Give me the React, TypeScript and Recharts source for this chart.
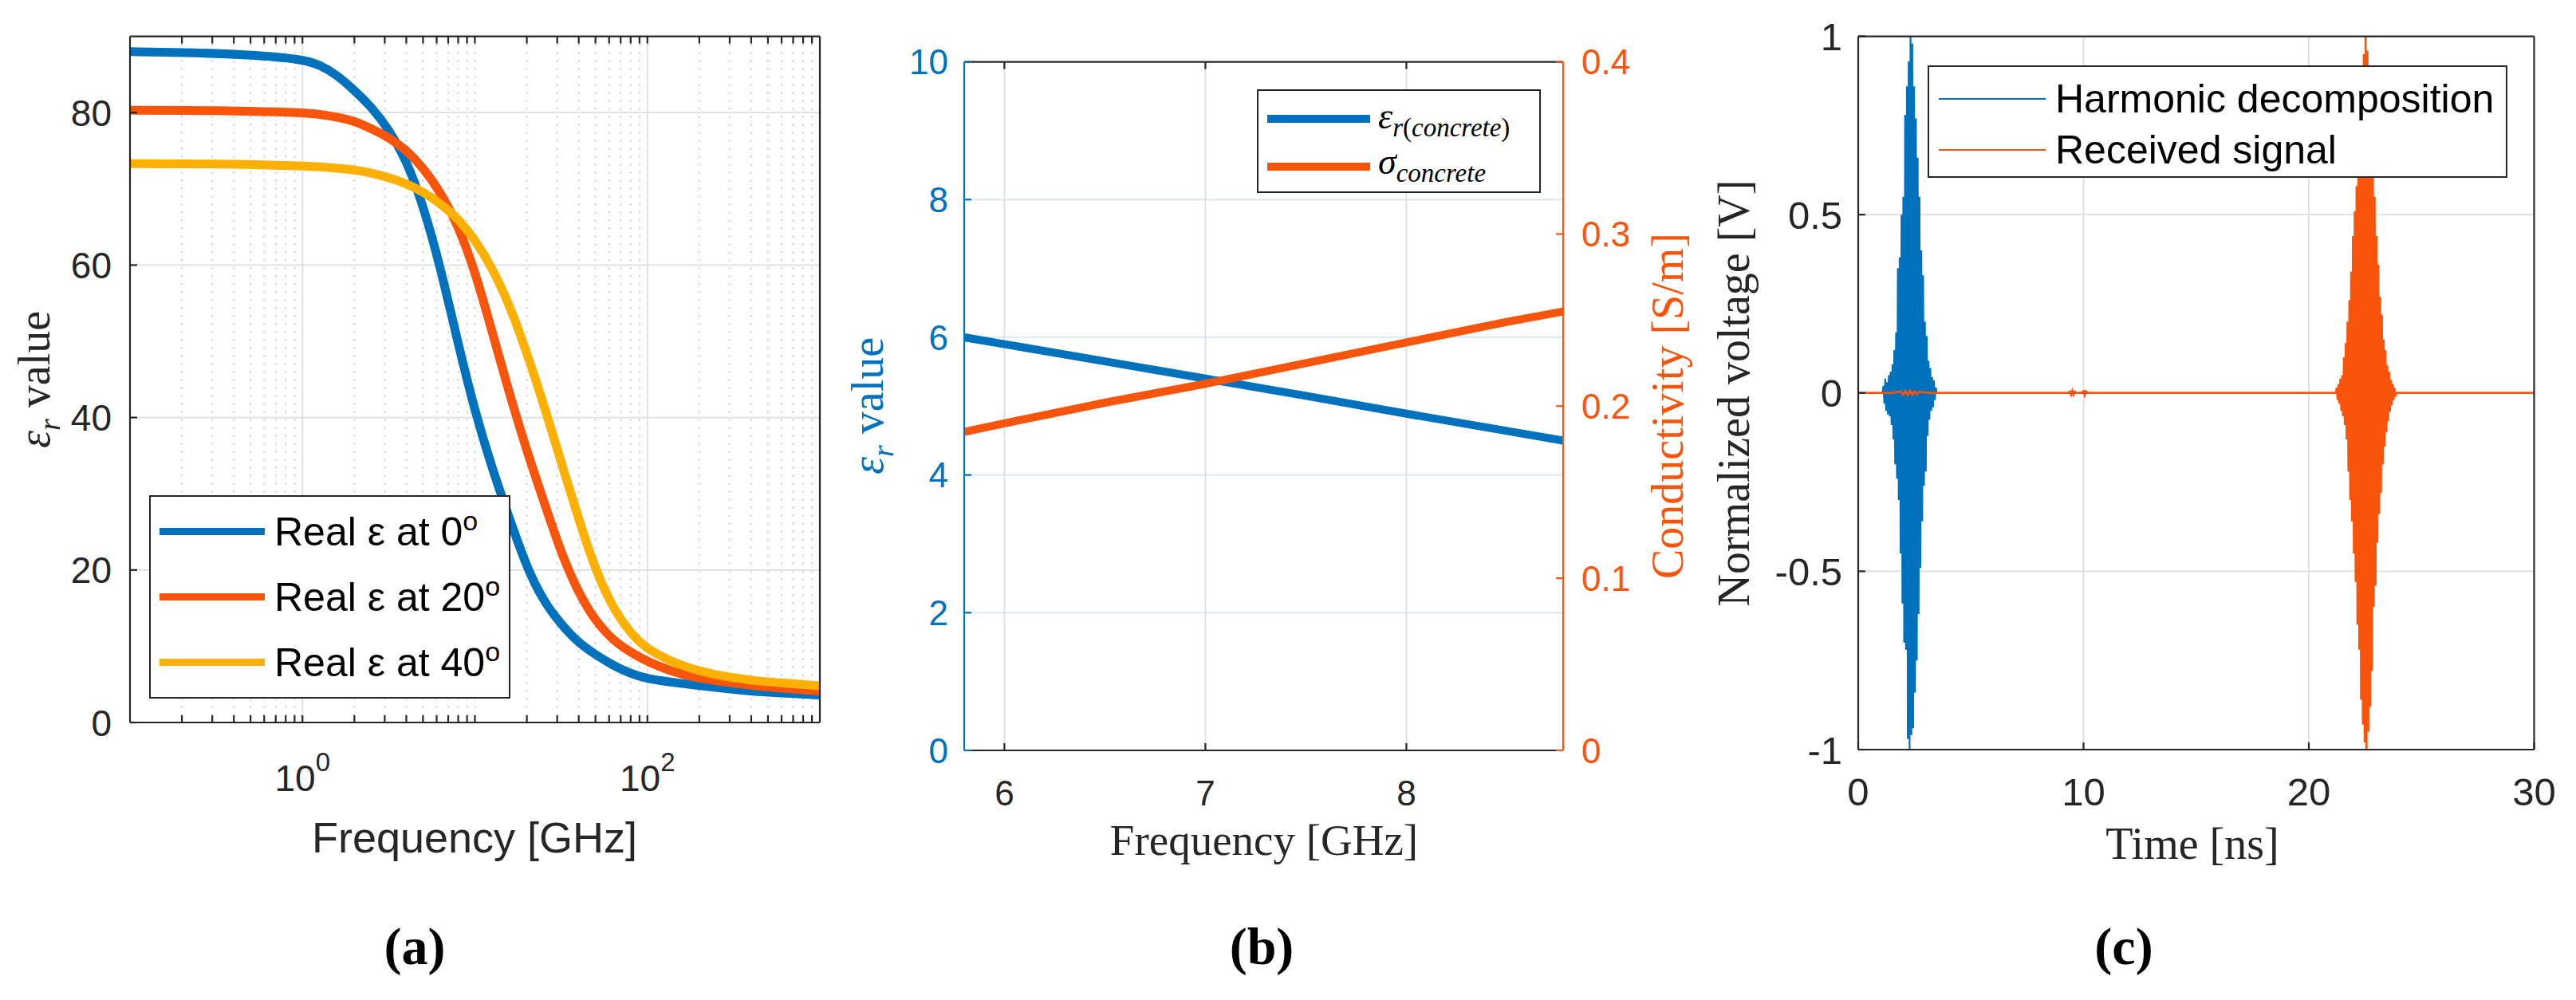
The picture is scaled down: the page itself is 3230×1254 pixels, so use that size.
import React from "react";
import { CartesianGrid, Line, LineChart, XAxis, YAxis } from "recharts";

const SANS = "'Liberation Sans', Arial, Helvetica, sans-serif";
const SERIF = "'Liberation Serif', 'Times New Roman', serif";
const AX = "#262626";
const BLUE = "#0072BD";
const ORANGE = "#F8540C";
const YELLOW = "#FEB000";
const GRID = "#DEDEDE";

// ---------- (a) real permittivity of water vs frequency ----------
const freqA = [0.1, 0.2, 0.5, 1, 1.25, 1.6, 2, 2.5, 3.15, 4, 5, 6.3, 8, 10, 12.5, 16, 20, 25, 31.5, 40, 50, 63, 80, 100, 160, 250, 400, 630, 1000];
const eps0 = [88.0, 87.9, 87.6, 87.0, 86.3, 84.9, 82.9, 80.8, 77.9, 73.8, 67.9, 59.8, 49.6, 40.8, 33.5, 26.5, 20.3, 15.9, 12.9, 10.4, 8.9, 7.5, 6.4, 5.7, 5.1, 4.6, 4.1, 3.85, 3.6];
const eps20 = [80.3, 80.3, 80.2, 80.0, 79.8, 79.4, 78.9, 77.9, 76.8, 75.1, 72.8, 69.6, 65.2, 59.2, 51.5, 42.8, 35.6, 29.1, 22.3, 16.9, 13.3, 10.8, 9.2, 7.95, 6.15, 5.47, 4.85, 4.47, 4.1];
const eps40 = [73.3, 73.3, 73.2, 73.0, 72.9, 72.7, 72.5, 72.1, 71.5, 70.7, 69.6, 68.1, 66.1, 63.3, 59.8, 54.6, 48.5, 41.8, 34.3, 26.6, 20.0, 15.0, 11.7, 9.5, 7.3, 6.2, 5.5, 5.15, 4.8];
const freqMajorA = [1, 100];
const freqMinorA = [0.2, 0.3, 0.4, 0.5, 0.6, 0.7, 0.8, 0.9, 2, 3, 4, 5, 6, 7, 8, 9, 10, 20, 30, 40, 50, 60, 70, 80, 90, 200, 300, 400, 500, 600, 700, 800, 900];
const epsTicksA = [0, 20, 40, 60, 80];
const legendA = ["Real ε at 0", "Real ε at 20", "Real ε at 40"];

const dataA = freqA.map((f, i) => ({ f, e0: eps0[i], e20: eps20[i], e40: eps40[i] }));

// ---------- (b) concrete permittivity and conductivity ----------
const freqB = [5.8, 6, 6.5, 7, 7.5, 8, 8.5, 8.78];
const epsConcrete = [6.0, 5.9, 5.65, 5.4, 5.15, 4.89, 4.64, 4.5];
const sigmaConcrete = [0.185, 0.19, 0.202, 0.213, 0.225, 0.237, 0.249, 0.255];
const freqTicksB = [6, 7, 8];
const epsTicksB = [0, 2, 4, 6, 8, 10];
const sigmaTicksB = [0, 0.1, 0.2, 0.3, 0.4];

const dataB = freqB.map((f, i) => ({ f, eps: epsConcrete[i], sig: sigmaConcrete[i] }));

// ---------- (c) time-domain signals ----------
const burstStep = 0.04;
const blueBurstStart = 1.12;
const blueBurst = [
  0.02, -0.03, 0.04, -0.05, 0.03, -0.06, 0.05, -0.065, 0.06, -0.09,
  0.08, -0.13, 0.12, -0.2, 0.17, -0.24, 0.35, -0.3, 0.38, -0.45,
  0.5, -0.59, 0.55, -0.7, 0.78, -0.72, 0.86, -0.97, 0.93, -1.0,
  1.0, -0.96, 0.98, -0.94, 0.86, -0.84, 0.77, -0.75, 0.66, -0.62,
  0.55, -0.49, 0.4, -0.36, 0.33, -0.26, 0.2, -0.22, 0.16, -0.12,
  0.09, -0.075, 0.07, -0.05, 0.045, -0.04, 0.035, -0.02, 0.015,
];
const orangeBurstStart = 21.24;
const orangeBurst = [
  0.015, -0.02, 0.025, -0.03, 0.04, -0.05, 0.05, -0.065, 0.1, -0.09,
  0.14, -0.13, 0.2, -0.22, 0.26, -0.3, 0.34, -0.36, 0.44, -0.45,
  0.51, -0.53, 0.58, -0.65, 0.66, -0.72, 0.8, -0.86, 0.88, -0.93,
  0.95, -0.98, 1.0, -1.0, 0.96, -0.95, 0.85, -0.88, 0.74, -0.78,
  0.64, -0.6, 0.55, -0.54, 0.44, -0.42, 0.36, -0.34, 0.27, -0.28,
  0.22, -0.2, 0.15, -0.15, 0.12, -0.11, 0.077, -0.08, 0.06, -0.053,
  0.037, -0.035, 0.025, -0.02, 0.015, -0.01,
];
const orangeQuietT = [0, 1.5, 1.9, 2.0, 2.1, 2.2, 2.3, 2.4, 2.5, 2.6, 2.7, 3.2, 9.3, 9.4, 9.45, 9.5, 9.55, 9.6, 9.7, 9.9, 10.0, 10.05, 10.1, 10.2, 21.2];
const orangeQuietV = [0, 0, 0.004, -0.005, 0.006, -0.006, 0.006, -0.005, 0.005, -0.004, 0.003, 0, 0, 0.004, -0.005, 0.006, -0.005, 0.004, 0, 0, 0.005, -0.006, 0.005, 0, 0];
const timeTicksC = [0, 10, 20, 30];
const voltTicksC = [-1, -0.5, 0, 0.5, 1];

const blueData = [
  { t: 0, v: 0 },
  { t: 1.08, v: 0 },
  ...blueBurst.map((v, i) => ({ t: blueBurstStart + i * burstStep, v })),
  { t: 3.48, v: 0 },
  { t: 30, v: 0 },
];
const orangeData = [
  ...orangeQuietT.map((t, i) => ({ t, v: orangeQuietV[i] })),
  ...orangeBurst.map((v, i) => ({ t: orangeBurstStart + i * burstStep, v })),
  { t: 23.88, v: 0 },
  { t: 30, v: 0 },
];

// ---------- helpers ----------
type Side = "bottom" | "top" | "left" | "right";
interface TickSpec {
  side: Side;
  len?: number;
  color?: string;
  fontSize?: number;
  gap?: number;
  show?: (v: number) => boolean;
  format?: (v: number) => React.ReactNode;
}

const tick = (s: TickSpec) => (p: any) => {
  const { x, y, payload } = p;
  const v = payload.value as number;
  const len = s.len ?? 9;
  const col = s.color ?? AX;
  const d = { bottom: [0, -len], top: [0, len], left: [len, 0], right: [-len, 0] }[s.side];
  const lab = s.format && (!s.show || s.show(v)) ? s.format(v) : null;
  const fs = s.fontSize ?? 46;
  const g = s.gap ?? 20;
  let t: React.ReactNode = null;
  if (lab !== null) {
    const common = { fontSize: fs, fontFamily: SANS, fill: col };
    if (s.side === "bottom") t = <text x={x} y={y + g} textAnchor="middle" {...common}>{lab}</text>;
    else if (s.side === "left") t = <text x={x - g} y={y} dy="0.36em" textAnchor="end" {...common}>{lab}</text>;
    else if (s.side === "right") t = <text x={x + g} y={y} dy="0.36em" textAnchor="start" {...common}>{lab}</text>;
  }
  return (
    <g>
      <line x1={x} y1={y} x2={x + d[0]} y2={y + d[1]} stroke={col} strokeWidth={2.2} />
      {t}
    </g>
  );
};

const Txt = ({ x, y, rot, size, color, family, children, weight }: any) => (
  <div
    style={{
      position: "absolute",
      left: x,
      top: y,
      transform: `translate(-50%, -50%)${rot ? " rotate(-90deg)" : ""}`,
      whiteSpace: "nowrap",
      fontSize: size,
      color: color ?? AX,
      fontFamily: family ?? SERIF,
      fontWeight: weight ?? "normal",
      lineHeight: 1,
    }}
  >
    {children}
  </div>
);

const Box = ({ x, y, w, h, children }: any) => (
  <div
    style={{
      position: "absolute",
      left: x,
      top: y,
      width: w,
      height: h,
      border: `2.5px solid ${AX}`,
      background: "#fff",
      boxSizing: "border-box",
    }}
  >
    {children}
  </div>
);

const Swatch = ({ x, y, w, thick, color }: any) => (
  <div style={{ position: "absolute", left: x, top: y - thick / 2, width: w, height: thick, background: color }} />
);

const Entry = ({ x, y, size, family, children }: any) => (
  <div
    style={{
      position: "absolute",
      left: x,
      top: y,
      transform: "translateY(-50%)",
      fontFamily: family ?? SANS,
      fontSize: size,
      color: "#000",
      whiteSpace: "nowrap",
      lineHeight: 1,
    }}
  >
    {children}
  </div>
);

const axisLine = (c: string) => ({ stroke: c, strokeWidth: 2.2 });
const isMajorA = (v: number) => freqMajorA.includes(v);

// ---------- panels ----------
function PanelA() {
  const colors = [BLUE, ORANGE, YELLOW];
  return (
    <>
      <div style={{ position: "absolute", left: 0, top: 0 }}>
        <LineChart width={1100} height={1254} data={dataA} margin={{ top: 44.6, right: 62, left: 0, bottom: 198 }}>
          <CartesianGrid xAxisId="b" yAxisId="l" horizontal={false} verticalValues={freqMinorA} stroke="#C4C4C4" strokeWidth={1.8} strokeDasharray="2 8" />
          <CartesianGrid xAxisId="b" yAxisId="l" verticalValues={freqMajorA} horizontalValues={epsTicksA} stroke={GRID} strokeWidth={1.8} />
          <XAxis
            xAxisId="b" dataKey="f" type="number" scale="log" domain={[0.1, 1000]} ticks={[...freqMinorA, ...freqMajorA]} interval={0}
            height={150} tickSize={0} tickMargin={0} tickLine={false} axisLine={axisLine(AX)}
            tick={tick({
              side: "bottom", gap: 86, show: isMajorA,
              format: (v) => (
                <>
                  10<tspan dy={-25} fontSize={33}>{Math.round(Math.log10(v))}</tspan>
                </>
              ),
            })}
          />
          <XAxis
            xAxisId="t" orientation="top" dataKey="f" type="number" scale="log" domain={[0.1, 1000]} ticks={[...freqMinorA, ...freqMajorA]} interval={0}
            height={1} tickSize={0} tickMargin={0} tickLine={false} axisLine={axisLine(AX)} tick={tick({ side: "top" })}
          />
          <YAxis
            yAxisId="l" type="number" domain={[0, 90]} ticks={epsTicksA} interval={0} width={163} tickSize={0} tickMargin={0}
            tickLine={false} axisLine={axisLine(AX)} tick={tick({ side: "left", gap: 23, format: (v) => String(v) })}
          />
          <YAxis
            yAxisId="r" orientation="right" type="number" domain={[0, 90]} ticks={epsTicksA} interval={0} width={10} tickSize={0}
            tickMargin={0} tickLine={false} axisLine={axisLine(AX)} tick={tick({ side: "right" })}
          />
          {["e0", "e20", "e40"].map((k, i) => (
            <Line key={k} xAxisId="b" yAxisId="l" type="basis" dataKey={k} stroke={colors[i]} strokeWidth={11} dot={false} isAnimationActive={false} />
          ))}
        </LineChart>
      </div>
      <Box x={187} y={621} w={453} h={255}>
        {legendA.map((s, i) => (
          <React.Fragment key={s}>
            <Swatch x={11} y={43 + i * 82} w={132} thick={9} color={colors[i]} />
            <Entry x={155} y={41 + i * 82} size={50}>
              {s}
              <sup style={{ fontSize: 34, verticalAlign: "0.55em" }}>o</sup>
            </Entry>
          </React.Fragment>
        ))}
      </Box>
      <Txt x={48} y={476} rot size={56}>
        <i>ε</i>
        <sub style={{ fontSize: 38 }}><i>r</i></sub> value
      </Txt>
      <Txt x={595} y={1050} size={54} family={SANS}>Frequency [GHz]</Txt>
      <Txt x={520} y={1187} size={66} weight="bold" color="#000">(a)</Txt>
    </>
  );
}

function PanelB() {
  return (
    <>
      <div style={{ position: "absolute", left: 1100, top: 0 }}>
        <LineChart width={1050} height={1254} data={dataB} margin={{ top: 76.6, right: 90, left: 0, bottom: 163 }}>
          <CartesianGrid xAxisId="b" yAxisId="l" horizontal={false} verticalValues={freqTicksB} stroke={GRID} strokeWidth={1.8} />
          <CartesianGrid xAxisId="b" yAxisId="l" vertical={false} horizontalValues={[2, 4, 6, 8]} stroke="#D6E6F2" strokeWidth={1.8} />
          <XAxis
            xAxisId="b" dataKey="f" type="number" domain={[5.8, 8.78]} ticks={freqTicksB} interval={0} height={150} tickSize={0}
            tickMargin={0} tickLine={false} axisLine={axisLine(AX)}
            tick={tick({ side: "bottom", gap: 69, fontSize: 44, format: (v) => String(v) })}
          />
          <XAxis
            xAxisId="t" orientation="top" dataKey="f" type="number" domain={[5.8, 8.78]} ticks={freqTicksB} interval={0} height={1}
            tickSize={0} tickMargin={0} tickLine={false} axisLine={axisLine(AX)} tick={tick({ side: "top" })}
          />
          <YAxis
            yAxisId="l" type="number" domain={[0, 10]} ticks={epsTicksB} interval={0} width={109} tickSize={0} tickMargin={0}
            tickLine={false} axisLine={axisLine(BLUE)} tick={tick({ side: "left", gap: 20, fontSize: 44, color: BLUE, format: (v) => String(v) })}
          />
          <YAxis
            yAxisId="r" orientation="right" type="number" domain={[0, 0.4]} ticks={sigmaTicksB} interval={0} width={100} tickSize={0}
            tickMargin={0} tickLine={false} axisLine={axisLine(ORANGE)}
            tick={tick({ side: "right", gap: 23, fontSize: 44, color: ORANGE, format: (v) => String(v) })}
          />
          <Line xAxisId="b" yAxisId="l" type="linear" dataKey="eps" stroke={BLUE} strokeWidth={10} dot={false} isAnimationActive={false} />
          <Line xAxisId="b" yAxisId="r" type="linear" dataKey="sig" stroke={ORANGE} strokeWidth={10} dot={false} isAnimationActive={false} />
        </LineChart>
      </div>
      <Box x={1576} y={112} w={356} h={130}>
        <Swatch x={11} y={35} w={129} thick={10} color={BLUE} />
        <Swatch x={11} y={95} w={129} thick={10} color={ORANGE} />
        <Entry x={150} y={36} size={46} family={SERIF}>
          <i>ε</i>
          <sub style={{ fontSize: 33 }}><i>r</i>(<i>concrete</i>)</sub>
        </Entry>
        <Entry x={150} y={93} size={46} family={SERIF}>
          <i>σ</i>
          <sub style={{ fontSize: 33 }}><i>concrete</i></sub>
        </Entry>
      </Box>
      <Txt x={1093} y={509} rot size={56} color={BLUE}>
        <i>ε</i>
        <sub style={{ fontSize: 38 }}><i>r</i></sub> value
      </Txt>
      <Txt x={2091} y={509} rot size={56} color={ORANGE}>Conductivity [S/m]</Txt>
      <Txt x={1585} y={1053} size={55}>Frequency [GHz]</Txt>
      <Txt x={1582} y={1187} size={66} weight="bold" color="#000">(b)</Txt>
    </>
  );
}

function PanelC() {
  return (
    <>
      <div style={{ position: "absolute", left: 2150, top: 0 }}>
        <LineChart width={1080} height={1254} margin={{ top: 44.6, right: 42.5, left: 0, bottom: 164 }}>
          <CartesianGrid xAxisId="b" yAxisId="l" verticalValues={[10, 20]} horizontalValues={[-0.5, 0, 0.5]} stroke={GRID} strokeWidth={1.8} />
          <XAxis
            xAxisId="b" dataKey="t" type="number" domain={[0, 30]} ticks={timeTicksC} interval={0} height={150} tickSize={0}
            tickMargin={0} tickLine={false} axisLine={axisLine(AX)}
            tick={tick({ side: "bottom", gap: 70, fontSize: 49, format: (v) => String(v) })}
          />
          <XAxis
            xAxisId="t" orientation="top" dataKey="t" type="number" domain={[0, 30]} ticks={timeTicksC} interval={0} height={1}
            tickSize={0} tickMargin={0} tickLine={false} axisLine={axisLine(AX)} tick={tick({ side: "top" })}
          />
          <YAxis
            yAxisId="l" type="number" domain={[-1, 1]} ticks={voltTicksC} interval={0} width={180} tickSize={0} tickMargin={0}
            tickLine={false} axisLine={axisLine(AX)} tick={tick({ side: "left", gap: 20, fontSize: 49, format: (v) => String(v) })}
          />
          <YAxis
            yAxisId="r" orientation="right" type="number" domain={[-1, 1]} ticks={voltTicksC} interval={0} width={10} tickSize={0}
            tickMargin={0} tickLine={false} axisLine={axisLine(AX)} tick={tick({ side: "right" })}
          />
          <Line xAxisId="b" yAxisId="l" data={blueData} type="linear" dataKey="v" stroke={BLUE} strokeWidth={2.2} dot={false} isAnimationActive={false} />
          <Line xAxisId="b" yAxisId="l" data={orangeData} type="linear" dataKey="v" stroke={ORANGE} strokeWidth={2.6} dot={false} isAnimationActive={false} />
        </LineChart>
      </div>
      <Box x={2417} y={82} w={727} h={141}>
        <Swatch x={12} y={40} w={134} thick={2.5} color={BLUE} />
        <Swatch x={12} y={104} w={134} thick={2.5} color={ORANGE} />
        <Entry x={158} y={40} size={50}>Harmonic decomposition</Entry>
        <Entry x={158} y={104} size={50}>Received signal</Entry>
      </Box>
      <Txt x={2174} y={493} rot size={56}>Normalized voltage [V]</Txt>
      <Txt x={2749} y={1058} size={56}>Time [ns]</Txt>
      <Txt x={2663} y={1187} size={66} weight="bold" color="#000">(c)</Txt>
    </>
  );
}

export default function App() {
  return (
    <div style={{ position: "absolute", left: 0, top: 0, width: 3230, height: 1254, background: "#fff", overflow: "hidden" }}>
      <PanelA />
      <PanelB />
      <PanelC />
    </div>
  );
}
